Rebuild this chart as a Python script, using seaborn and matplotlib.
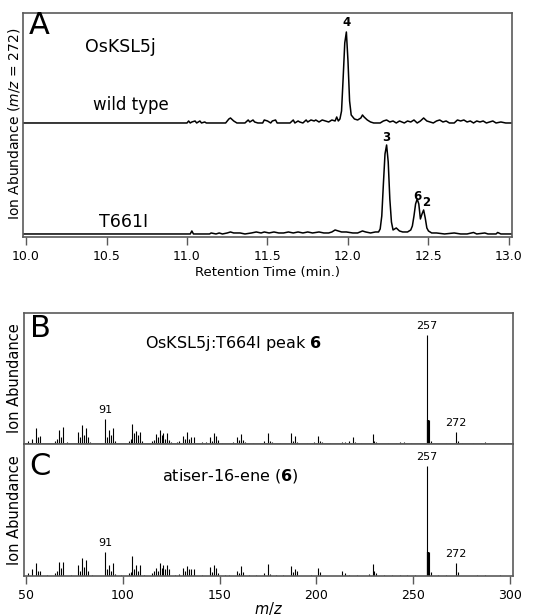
import numpy as np
import pandas as pd
import seaborn as sns
from matplotlib import pyplot as plt

# --- panel A: extracted ion chromatograms (m/z = 272) ---
# retention time (min) / abundance, wild type
wt_time = [9.98, 11.00, 11.01, 11.02, 11.03, 11.05, 11.06, 11.08, 11.09, 11.11,
           11.12, 11.14, 11.24, 11.26, 11.27, 11.29, 11.31, 11.36, 11.38, 11.39,
           11.41, 11.42, 11.44, 11.47, 11.48, 11.50, 11.52, 11.53, 11.55, 11.56,
           11.64, 11.66, 11.67, 11.69, 11.70, 11.72, 11.74, 11.75, 11.77, 11.79,
           11.80, 11.82, 11.84, 11.86, 11.88, 11.90, 11.92, 11.93, 11.94, 11.95,
           11.96, 11.97, 11.98, 11.99, 12.00, 12.01, 12.02, 12.04, 12.06, 12.08,
           12.09, 12.10, 12.12, 12.14, 12.16, 12.20, 12.22, 12.24, 12.26, 12.28,
           12.30, 12.32, 12.35, 12.37, 12.39, 12.41, 12.43, 12.45, 12.47, 12.49,
           12.51, 12.53, 12.55, 12.57, 12.59, 12.61, 12.63, 12.66, 12.68, 12.70,
           12.72, 12.74, 12.76, 12.78, 12.80, 12.82, 12.84, 12.86, 12.88, 12.90,
           12.92, 12.95, 12.98, 13.02]
wt_abund = [0, 0, 2, 0, 1, 2, 0, 2, 0, 1,
            0, 0, 0, 4, 5, 2, 0, 0, 3, 1,
            3, 1, 0, 0, 3, 2, 0, 2, 3, 0,
            0, 3, 0, 2, 1, 0, 3, 1, 3, 2,
            3, 1, 3, 2, 1, 3, 2, 6, 2, 4,
            12, 45, 80, 91, 62, 22, 8, 4, 3, 5,
            8, 6, 3, 1, 0, 0, 2, 3, 1, 2,
            0, 2, 0, 2, 1, 3, 0, 2, 5, 2,
            1, 0, 2, 3, 1, 2, 0, 0, 3, 2,
            3, 1, 2, 0, 2, 1, 2, 0, 1, 2,
            0, 1, 0, 0]

# T661I mutant
mut_time = [9.98, 11.02, 11.03, 11.04, 11.14, 11.15, 11.18, 11.20, 11.22, 11.25,
            11.27, 11.29, 11.33, 11.36, 11.40, 11.43, 11.46, 11.48, 11.51, 11.54,
            11.57, 11.60, 11.63, 11.66, 11.69, 11.72, 11.75, 11.78, 11.82, 11.85,
            11.88, 11.90, 11.92, 11.94, 11.96, 11.99, 12.03, 12.06, 12.09, 12.11,
            12.14, 12.17, 12.19, 12.20, 12.21, 12.22, 12.23, 12.24, 12.25, 12.26,
            12.27, 12.28, 12.30, 12.32, 12.34, 12.37, 12.39, 12.40, 12.41, 12.42,
            12.43, 12.44, 12.45, 12.46, 12.47, 12.48, 12.49, 12.50, 12.52, 12.55,
            12.60, 12.66, 12.70, 12.74, 12.78, 12.80, 12.85, 12.87, 12.92, 12.93,
            12.95, 13.02]
mut_abund = [0, 0, 3, 0, 0, 1, 0, 1, 0, 1,
             2, 1, 1, 0, 1, 2, 1, 2, 1, 2,
             1, 1, 2, 1, 2, 1, 2, 1, 2, 1,
             1, 2, 4, 3, 2, 2, 1, 1, 3, 2,
             1, 2, 2, 5, 18, 50, 80, 89, 72, 35,
             12, 4, 6, 3, 2, 2, 4, 8, 18, 30,
             35, 30, 15, 20, 24, 16, 6, 3, 1, 1,
             0, 1, 0, 0, 1.5, 0, 1, 0, 0, 1.5,
             0, 0]

wt_peak_labels = ["4"]
wt_peak_times = [11.99]
mut_peak_labels = ["3", "6", "2"]
mut_peak_times = [12.24, 12.44, 12.47]

rt_ticks = [10.0, 10.5, 11.0, 11.5, 12.0, 12.5, 13.0]

# --- panels B/C: mass spectra (relative abundance) ---
b_mz = [51, 53, 55, 56, 57, 65, 66, 67, 68, 69, 71, 77, 78, 79, 80, 81, 82, 83,
        91, 92, 93, 94, 95, 96, 103, 104, 105, 106, 107, 108, 109, 110,
        115, 116, 117, 118, 119, 120, 121, 122, 123, 124, 125, 128, 129,
        131, 132, 133, 134, 135, 137, 141, 143, 145, 146, 147, 148, 149, 151,
        157, 159, 160, 161, 162, 163, 167, 173, 175, 176, 177, 181, 187, 188, 189, 190,
        195, 199, 201, 202, 203, 207, 213, 215, 217, 219, 220, 223, 229, 230, 231,
        237, 241, 243, 245, 249, 257, 258, 259, 267, 269, 272, 273, 275, 281,
        285, 287, 297, 299]
b_int = [3, 5, 15, 6, 7, 3, 5, 13, 6, 16, 2, 11, 6, 17, 8, 15, 6, 2,
         23, 6, 13, 8, 15, 3, 3, 5, 18, 10, 12, 8, 11, 3,
         3, 4, 9, 6, 13, 8, 10, 5, 10, 4, 2, 2, 3,
         7, 5, 11, 5, 6, 6, 2, 2, 6, 3, 10, 7, 4, 1,
         2, 6, 4, 9, 4, 2, 1, 3, 10, 3, 2, 1, 10, 3, 7, 2,
         1, 2, 7, 3, 2, 1, 2, 2, 3, 6, 2, 1, 9, 3, 2,
         1, 1, 2, 2, 1, 100, 22, 3, 1, 1, 11, 3, 1, 1,
         1, 2, 1, 1]

c_mz = [51, 53, 55, 56, 57, 61, 65, 66, 67, 68, 69, 73, 77, 78, 79, 80, 81, 82, 84,
        91, 92, 93, 94, 95, 96, 99, 103, 104, 105, 106, 107, 108, 109, 111,
        115, 116, 117, 118, 119, 120, 121, 122, 123, 124, 127, 129,
        131, 132, 133, 134, 135, 137, 141, 145, 146, 147, 148, 149, 153, 155,
        159, 160, 161, 162, 165, 169, 173, 175, 176, 179, 183, 187, 188, 189, 190,
        197, 201, 202, 213, 215, 217, 221, 227, 229, 230, 231, 235, 239, 243,
        247, 251, 257, 258, 259, 263, 267, 272, 273, 283, 287, 295]
c_int = [3, 6, 12, 5, 5, 1, 3, 5, 13, 7, 13, 1, 10, 5, 16, 8, 15, 5, 1,
         22, 6, 10, 5, 12, 2, 1, 3, 4, 18, 6, 10, 5, 10, 1,
         3, 5, 7, 5, 12, 7, 10, 6, 10, 6, 1, 2,
         7, 5, 9, 6, 6, 6, 1, 8, 4, 10, 7, 3, 1, 1,
         5, 3, 9, 4, 1, 1, 3, 11, 2, 1, 1, 9, 4, 6, 5,
         1, 7, 4, 5, 3, 1, 1, 2, 11, 5, 3, 1, 1, 1,
         1, 1, 100, 22, 4, 1, 1, 12, 4, 1, 1, 1]

b_labels = [91, 257, 272]
c_labels = [91, 257, 272]
mz_ticks = [50, 100, 150, 200, 250, 300]

frame_color = "#5a5a5a"

sns.set_theme(style="white")
plt.rcParams["font.family"] = ["DejaVu Sans"]
plt.rcParams["mathtext.fontset"] = "dejavusans"
plt.rcParams["text.color"] = "black"
plt.rcParams["axes.labelcolor"] = "black"
plt.rcParams["xtick.color"] = "black"

fig = plt.figure(figsize=(5.57, 6.16), dpi=100)
ax_a = fig.add_axes([0.0413, 0.6153, 0.8779, 0.3636])
ax_b = fig.add_axes([0.0431, 0.2792, 0.8779, 0.2127])
ax_c = fig.add_axes([0.0431, 0.0649, 0.8779, 0.2143])

# offsets to stack the two traces in one panel
wt_offset = 114
mut_offset = 3

chrom = pd.concat([
    pd.DataFrame({"time": wt_time, "abund": np.array(wt_abund) + wt_offset, "trace": "wt"}),
    pd.DataFrame({"time": mut_time, "abund": np.array(mut_abund) + mut_offset, "trace": "mut"}),
])
sns.lineplot(data=chrom, x="time", y="abund", units="trace", estimator=None,
             sort=False, color="black", linewidth=1.1, ax=ax_a)

wt_lookup = dict(zip(wt_time, wt_abund))
mut_lookup = dict(zip(mut_time, mut_abund))
for lab, t in zip(wt_peak_labels, wt_peak_times):
    ax_a.annotate(lab, (t, wt_lookup[t] + wt_offset), xytext=(0, 2),
                  textcoords="offset points", ha="center", va="bottom",
                  fontsize=8.5, fontweight="bold")
for lab, t in zip(mut_peak_labels, mut_peak_times):
    dx = -1 if lab == "6" else (2 if lab == "2" else 0)
    ax_a.annotate(lab, (t, mut_lookup[t] + mut_offset), xytext=(dx, 1),
                  textcoords="offset points", ha="center", va="bottom",
                  fontsize=8.5, fontweight="bold")

ax_a.set_xlim(9.981, 13.019)
ax_a.set_ylim(0, 224)
ax_a.set_xticks(rt_ticks)
ax_a.set_xticklabels([f"{t:.1f}" for t in rt_ticks])
ax_a.set_yticks([])
ax_a.set_xlabel("Retention Time (min.)", fontsize=9.5)
ax_a.xaxis.set_label_coords(0.5, -0.13)
ax_a.set_ylabel("Ion Abundance ($m/z$ = 272)", fontsize=10)
ax_a.yaxis.set_label_coords(-0.003, 0.505)
ax_a.text(0.033, 0.946, "A", transform=ax_a.transAxes, ha="center", va="center", fontsize=22)
ax_a.text(0.127, 0.826, "OsKSL5j", transform=ax_a.transAxes, ha="left", va="baseline", fontsize=12.5)
ax_a.text(0.143, 0.567, "wild type", transform=ax_a.transAxes, ha="left", va="baseline", fontsize=12)
ax_a.text(0.155, 0.045, "T661I", transform=ax_a.transAxes, ha="left", va="baseline", fontsize=12.5)


def draw_spectrum(ax, mz, inten, labels, letter, title, title_x, title_y):
    ax.vlines(mz, 0, inten, color="black", linewidth=0.8)
    ax.vlines([257.4], 0, [inten[mz.index(258)]], color="black", linewidth=1.6)
    lookup = dict(zip(mz, inten))
    for m in labels:
        ax.annotate(str(m), (m, lookup[m]), xytext=(0, 3), textcoords="offset points",
                    ha="center", va="bottom", fontsize=8)
    ax.set_xlim(48.97, 301.55)
    ax.set_ylim(0, 120)
    ax.set_yticks([])
    ax.set_ylabel("Ion Abundance", fontsize=10.5)
    ax.yaxis.set_label_coords(-0.004, 0.5)
    ax.text(0.033, 0.88 if letter == "B" else 0.83, letter, transform=ax.transAxes,
            ha="center", va="center", fontsize=22)
    ax.text(title_x, title_y, title, transform=ax.transAxes, ha="center", va="baseline",
            fontsize=11.5)


draw_spectrum(ax_b, b_mz, b_int, b_labels, "B", r"OsKSL5j:T664I peak $\mathbf{6}$", 0.429, 0.733)
draw_spectrum(ax_c, c_mz, c_int, c_labels, "C", r"atiser-16-ene ($\mathbf{6}$)", 0.421, 0.727)

ax_b.set_xticks([])
ax_c.set_xticks(mz_ticks)
ax_c.set_xlabel("$m/z$", fontsize=10.5)
ax_c.xaxis.set_label_coords(0.5, -0.185)

for ax in (ax_a, ax_b, ax_c):
    for sp in ax.spines.values():
        sp.set_color(frame_color)
        sp.set_linewidth(1.2)
    ax.tick_params(axis="x", direction="out", length=6, width=1.0, color=frame_color,
                   pad=3.5, labelsize=9, bottom=True)

fig.savefig("out.png", dpi=100)
